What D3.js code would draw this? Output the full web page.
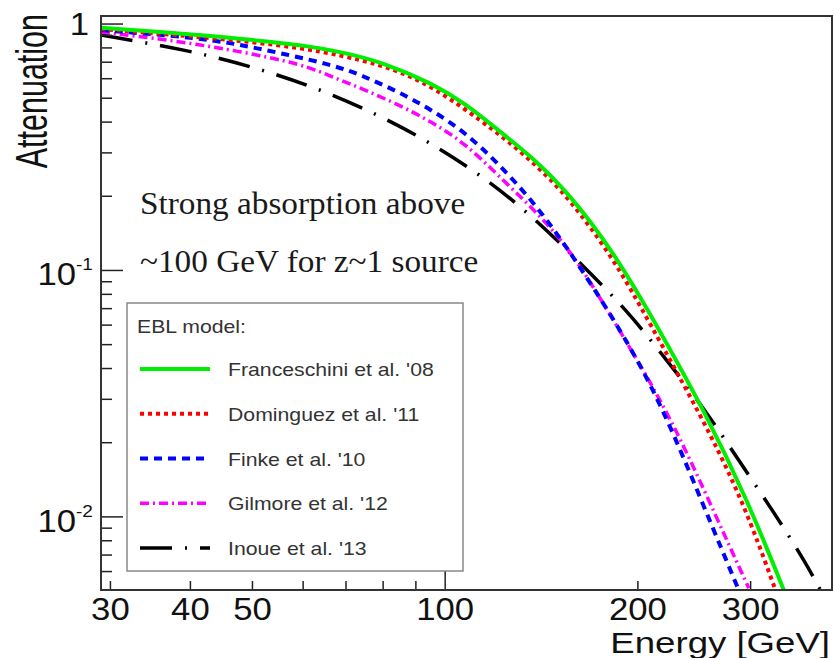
<!DOCTYPE html>
<html>
<head>
<meta charset="utf-8">
<title>EBL attenuation</title>
<script src="https://cdn.jsdelivr.net/npm/d3@7/dist/d3.min.js"></script>
<style>
    body {margin: 0; background: #fff;}
    text {font-family: "Liberation Sans", Arial, sans-serif;}
    .serif {font-family: "Liberation Serif", "Times New Roman", serif;}
    .curve {fill: none;}
</style>
</head>
<body>
<div id="container"></div>
<script>
// axis ranges
const energyRange = [29.0, 402];
const attenRange = [0.00505, 1.078];

const seriesNames = ["Franceschini et al. '08", "Dominguez et al. '11", "Finke et al. '10", "Gilmore et al. '12", "Inoue et al. '13"];
const seriesColors = ["#00ee00", "#ff0000", "#0000ff", "#ff00ff", "#000000"];

// Franceschini '08
const franceschiniE = [29.0, 41.9, 50.1, 59.9, 69.1, 79.8, 95.4, 107.4, 121, 136.6, 156, 184, 212, 254, 297, 338];
const franceschiniA = [0.966, 0.902, 0.861, 0.822, 0.769, 0.70, 0.575, 0.477, 0.371, 0.289, 0.206, 0.117, 0.0626, 0.027, 0.0116, 0.00505];
// Dominguez '11
const dominguezE = [29.0, 41.9, 59.9, 79.8, 95.4, 121, 136.6, 156, 184, 207.6, 251, 292, 328];
const dominguezA = [0.954, 0.885, 0.806, 0.688, 0.565, 0.361, 0.278, 0.198, 0.110, 0.0626, 0.0258, 0.0116, 0.00505];
// Finke '10
const finkeE = [29.0, 41.9, 50.1, 67.4, 75.1, 84.8, 95.4, 107.4, 121, 136.6, 153.7, 188.5, 217.5, 254, 286.6];
const finkeA = [0.945, 0.877, 0.806, 0.681, 0.609, 0.529, 0.447, 0.364, 0.272, 0.1926, 0.1288, 0.057, 0.0288, 0.0109, 0.00514];
// Gilmore '12
const gilmoreE = [29.0, 37.2, 47.2, 59.9, 67.4, 75.1, 84.8, 95.4, 107.4, 121, 136.6, 157.6, 188.5, 225.5, 266.8, 298];
const gilmoreA = [0.928, 0.861, 0.78, 0.687, 0.603, 0.539, 0.469, 0.40, 0.328, 0.243, 0.180, 0.1206, 0.0555, 0.0253, 0.00963, 0.00514];
// Inoue '13
const inoueE = [29.0, 39.7, 50.3, 63.2, 78.9, 96.5, 117.5, 140, 163.9, 192.6, 219.8, 254, 285.5, 322.6, 363, 385.7];
const inoueA = [0.902, 0.784, 0.669, 0.549, 0.427, 0.322, 0.23, 0.157, 0.105, 0.0686, 0.0446, 0.0275, 0.0174, 0.0109, 0.00675, 0.00505];

const xMinorTicks = [30, 40, 50, 60, 70, 80, 90, 200, 300];
const xMajorTicks = [100];
const xTickLabels = [30, 40, 50, 100, 200, 300];
const yMajorTicks = [1, 0.1, 0.01];
const yMinorTicks = [0.9, 0.8, 0.7, 0.6, 0.5, 0.4, 0.3, 0.2, 0.09, 0.08, 0.07, 0.06, 0.05, 0.04, 0.03, 0.02, 0.009, 0.008, 0.007, 0.006];
const yTickLabels = [{v: 1, base: "1", exp: ""}, {v: 0.1, base: "10", exp: "-1"}, {v: 0.01, base: "10", exp: "-2"}];

const xLabel = "Energy [GeV]";
const yLabel = "Attenuation";
const noteLines = ["Strong absorption above", "~100 GeV for z~1 source"];
const legendTitle = "EBL model:";

const w = 834;
const h = 658;
const frame = {left: 101, top: 16, right: 832, bottom: 590};

const svg = d3.select('#container')
    .append('svg')
    .attr('width', w)
    .attr('height', h);

const x = d3.scaleLog().domain(energyRange).range([frame.left, frame.right]);
const y = d3.scaleLog().domain(attenRange).range([frame.bottom, frame.top]);

const dashes = [null, "4,4", "8,6", "9,4,2,4", "32,13,2,13"];
const widths = [4, 4, 4, 3.5, 3.5];

const series = [
    [franceschiniE, franceschiniA],
    [dominguezE, dominguezA],
    [finkeE, finkeA],
    [gilmoreE, gilmoreA],
    [inoueE, inoueA]
].map((s, i) => ({
    name: seriesNames[i],
    color: seriesColors[i],
    dash: dashes[i],
    width: widths[i],
    points: s[0].map((e, j) => ({e: e, a: s[1][j]}))
}));

// stretched text helper: the picture's fonts are wider than Liberation Sans
function label(g, tx, ty, str, size, sx, anchor, cls) {
    return g.append('text')
        .attr('class', cls || null)
        .attr('transform', `translate(${tx},${ty}) scale(${sx},1)`)
        .attr('font-size', size)
        .attr('text-anchor', anchor || 'start')
        .attr('fill', '#111')
        .text(str);
}

svg.append('defs').append('clipPath').attr('id', 'clip')
    .append('rect')
    .attr('x', frame.left).attr('y', frame.top)
    .attr('width', frame.right - frame.left)
    .attr('height', frame.bottom - frame.top);

const line = d3.line()
    .x(d => x(d.e))
    .y(d => y(d.a))
    .curve(d3.curveBasis);

const curves = svg.append('g').attr('clip-path', 'url(#clip)');
// draw Inoue first so coloured curves sit on top, like the original
series.slice().reverse().forEach(s => {
    curves.append('path')
        .attr('class', 'curve')
        .attr('d', line(s.points))
        .attr('stroke', s.color)
        .attr('stroke-width', s.width)
        .attr('stroke-dasharray', s.dash);
});

// ticks
const axes = svg.append('g').attr('stroke', '#222').attr('stroke-width', 1.5);
xMinorTicks.forEach(v => {
    axes.append('line').attr('x1', x(v)).attr('x2', x(v)).attr('y1', frame.bottom).attr('y2', frame.bottom - 9);
});
xMajorTicks.forEach(v => {
    axes.append('line').attr('x1', x(v)).attr('x2', x(v)).attr('y1', frame.bottom).attr('y2', frame.bottom - 19);
});
yMinorTicks.forEach(v => {
    axes.append('line').attr('x1', frame.left).attr('x2', frame.left + 11).attr('y1', y(v)).attr('y2', y(v));
});
yMajorTicks.forEach(v => {
    axes.append('line').attr('x1', frame.left).attr('x2', frame.left + 22).attr('y1', y(v)).attr('y2', y(v));
});

// frame
svg.append('rect')
    .attr('x', frame.left).attr('y', frame.top)
    .attr('width', frame.right - frame.left)
    .attr('height', frame.bottom - frame.top)
    .attr('fill', 'none')
    .attr('stroke', '#333')
    .attr('stroke-width', 2);

// tick labels
const tl = svg.append('g');
xTickLabels.forEach(v => {
    label(tl, x(v), 620, String(v), 31, 1.12, 'middle');
});
yTickLabels.forEach(t => {
    if (t.exp === "") {
        label(tl, 89, y(t.v) + 11, t.base, 31, 1.12, 'end');
    } else {
        label(tl, 76, y(t.v) + 15, t.base, 31, 1.12, 'end');
        label(tl, 76, y(t.v) + 0, t.exp, 17, 1.12, 'start');
    }
});

// axis titles
label(svg, 830, 653, xLabel, 30, 1.22, 'end');
svg.append('text')
    .attr('transform', 'translate(47,14) rotate(-90) scale(1,1.45)')
    .attr('font-size', 30.5)
    .attr('text-anchor', 'end')
    .attr('fill', '#111')
    .text(yLabel);

// annotation
label(svg, 140, 214, noteLines[0], 32, 1.04, 'start', 'serif').attr('fill', '#1a1a1a');
label(svg, 140, 272, noteLines[1], 32, 1.04, 'start', 'serif').attr('fill', '#1a1a1a');

// legend
const leg = svg.append('g');
leg.append('rect')
    .attr('x', 127).attr('y', 303)
    .attr('width', 336).attr('height', 268)
    .attr('fill', '#fff')
    .attr('stroke', '#888')
    .attr('stroke-width', 1.5);
label(leg, 137, 333, legendTitle, 18, 1.18, 'start').attr('fill', '#333');

const legY = d3.scalePoint().domain(seriesNames).range([369, 548]);
series.forEach(s => {
    const yy = legY(s.name);
    leg.append('line')
        .attr('x1', 140).attr('x2', 210)
        .attr('y1', yy).attr('y2', yy)
        .attr('stroke', s.color)
        .attr('stroke-width', s.width)
        .attr('stroke-dasharray', s.dash);
    label(leg, 228, yy + 7, s.name, 18, 1.18, 'start').attr('fill', '#333');
});
</script>
</body>
</html>
